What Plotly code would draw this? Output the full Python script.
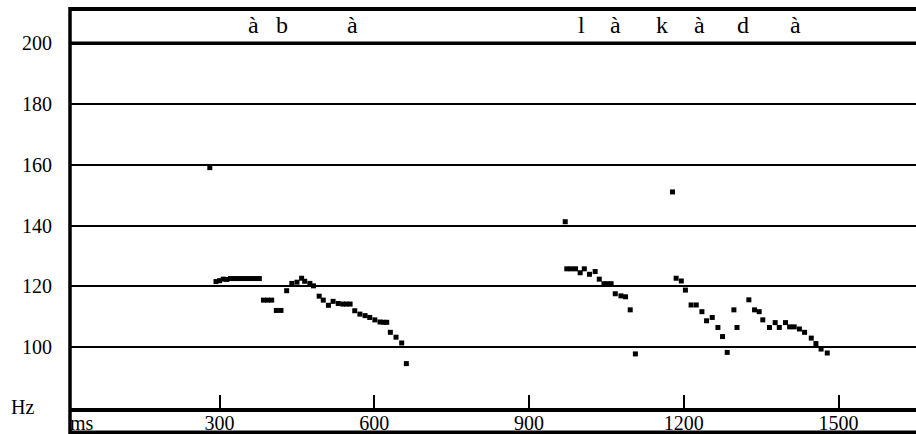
import plotly.graph_objects as go

# Pitch track (ms, Hz)
time_ms = [281,
           293, 300, 307, 314, 321, 329, 337, 345, 353, 361, 369, 377,
           385, 393, 401, 410, 419, 430,
           440, 450, 459, 465, 475, 482,
           493, 501, 511, 520, 530, 539, 546, 553,
           562, 572, 582, 591, 601, 611, 618, 624,
           631, 642, 653, 662,
           970,
           973, 981, 990, 999, 1007, 1017, 1028, 1036, 1045, 1052, 1059,
           1067, 1078, 1087, 1096, 1106,
           1178,
           1185, 1195, 1203, 1214, 1224, 1235, 1244, 1255, 1266, 1275, 1284,
           1297, 1303, 1326, 1337, 1346, 1353, 1366, 1377, 1385, 1397, 1405,
           1414, 1424, 1434, 1447, 1456, 1466, 1478]
pitch_hz = [159.1,
            121.6, 121.9, 122.4, 122.3, 122.6, 122.6, 122.6, 122.6, 122.6, 122.6, 122.6, 122.6,
            115.5, 115.5, 115.5, 112.1, 112.1, 118.6,
            121.0, 121.4, 122.7, 121.7, 121.0, 120.2,
            116.8, 115.5, 113.8, 115.1, 114.4, 114.2, 114.2, 114.2,
            112.0, 110.9, 110.4, 109.8, 109.0, 108.3, 108.2, 108.2,
            104.9, 103.3, 101.4, 94.6,
            141.3,
            125.8, 125.8, 125.8, 124.5, 125.8, 124.0, 124.9, 122.4, 120.9, 120.9, 120.9,
            117.6, 116.9, 116.6, 112.3, 97.8,
            151.1,
            122.7, 121.8, 118.8, 113.9, 113.9, 111.7, 108.7, 109.8, 106.5, 103.5, 98.3,
            112.3, 106.5, 115.6, 112.3, 111.7, 109.0, 106.5, 108.1, 106.5, 108.1, 106.7,
            106.7, 106.0, 104.9, 103.0, 101.2, 99.4, 98.1]

# Segment labels
seg_labels = ["à", "b", "à", "l", "à", "k", "à", "d", "à"]
seg_times = [365, 421, 557, 1002, 1068, 1158, 1231, 1315, 1416]

x_ticks = [300, 600, 900, 1200, 1500]
y_ticks = [100, 120, 140, 160, 180, 200]

FONT = "Liberation Serif"
TSIZE = 20

fig = go.Figure()
fig.add_trace(go.Scatter(
    x=time_ms, y=pitch_hz, mode="markers",
    marker=dict(symbol="square", size=5, color="black", line=dict(width=0)),
    showlegend=False, hoverinfo="x+y"))

for t, s in zip(seg_times, seg_labels):
    fig.add_annotation(x=t, y=206, xref="x", yref="y", text=s, showarrow=False,
                       font=dict(family=FONT, size=24, color="black"))

fig.add_annotation(x=-0.04, y=80.3, xref="paper", yref="y", text="Hz", showarrow=False,
                   xanchor="right", yanchor="middle",
                   font=dict(family=FONT, size=TSIZE, color="black"))
fig.add_annotation(x=-0.002, y=-0.038, xref="paper", yref="paper", text="ms", showarrow=False,
                   xanchor="left", yanchor="middle",
                   font=dict(family=FONT, size=TSIZE, color="black"))

# frame lines
fig.add_shape(type="line", xref="paper", yref="paper", x0=0, x1=1, y0=1, y1=1,
              line=dict(color="black", width=4))
fig.add_shape(type="line", xref="paper", yref="y", x0=0, x1=1, y0=200, y1=200,
              line=dict(color="black", width=3.5))
fig.add_shape(type="line", xref="paper", yref="paper", x0=0, x1=0, y0=-0.07, y1=1.005,
              line=dict(color="black", width=3.5))
fig.add_shape(type="line", xref="paper", yref="paper", x0=0, x1=1, y0=-0.061, y1=-0.061,
              line=dict(color="black", width=3.5))

fig.update_layout(
    width=916, height=434,
    margin=dict(l=70, r=0, t=9, b=26, autoexpand=False),
    paper_bgcolor="white", plot_bgcolor="white",
    font=dict(family=FONT, size=TSIZE, color="black"),
    xaxis=dict(range=[10, 1650], tickvals=x_ticks, ticktext=[str(v) for v in x_ticks],
               ticks="inside", ticklen=13, tickwidth=1.5, tickcolor="black",
               showgrid=False, zeroline=False, showline=True, linewidth=4, linecolor="black",
               automargin=False, ticklabelstandoff=-6,
               tickfont=dict(family=FONT, size=TSIZE, color="black")),
    yaxis=dict(range=[80, 211.3], tickvals=y_ticks, ticktext=[str(v) for v in y_ticks],
               ticks="", showgrid=True, gridcolor="black", gridwidth=2,
               zeroline=False, showline=False, ticklabelstandoff=17, automargin=False,
               tickfont=dict(family=FONT, size=TSIZE, color="black")),
)

fig.write_html("out.html", config={"displayModeBar": False},
               post_script="document.body.style.margin='0';document.body.style.overflow='hidden';")
